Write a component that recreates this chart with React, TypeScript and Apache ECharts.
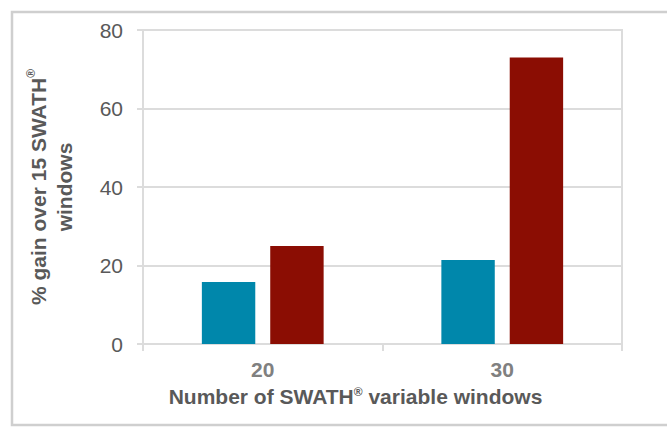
import React, { useEffect, useRef } from "react";
import * as echarts from "echarts";

const categories = ["20", "30"];
const seriesTeal = [15.8, 21.4];
const seriesRed = [25.0, 73.0];
const yTicks = { min: 0, max: 80, interval: 20 };

export default function App() {
  const ref = useRef<HTMLDivElement>(null);
  useEffect(() => {
    if (!ref.current) return;
    const chart = echarts.init(ref.current, undefined, { renderer: "svg" });
    const font = "'Liberation Sans', Arial, sans-serif";
    const sup = {
      fontFamily: font,
      fontSize: 12,
      fontWeight: "bold",
      color: "#595959",
      verticalAlign: "top",
      padding: [0, 0, 9, 0],
    };
    chart.setOption({
      animation: false,
      backgroundColor: "#ffffff",
      graphic: [
        {
          type: "rect",
          shape: { x: 12, y: 12, width: 700, height: 413 },
          style: { fill: "none", stroke: "#cfcfcf", lineWidth: 2.5 },
          silent: true,
          z: -1,
        },
      ],
      grid: {
        left: 143,
        right: 45,
        top: 30,
        bottom: 92,
        show: true,
        borderColor: "#dcdcdc",
        borderWidth: 2,
        backgroundColor: "transparent",
      },
      xAxis: {
        type: "category",
        data: categories,
        name: "Number of SWATH{sup|®} variable windows",
        nameLocation: "middle",
        nameGap: 42,
        nameTextStyle: {
          fontFamily: font,
          fontSize: 21,
          fontWeight: "bold",
          color: "#595959",
          padding: [0, 54, 0, 0],
          rich: { sup },
        },
        axisLine: { show: true, lineStyle: { color: "#dcdcdc", width: 2 } },
        axisTick: { show: true, length: 7, lineStyle: { color: "#dcdcdc", width: 2 } },
        axisLabel: {
          fontFamily: font,
          fontSize: 21,
          fontWeight: "bold",
          color: "#808080",
          margin: 15,
        },
        splitLine: { show: false },
      },
      yAxis: {
        type: "value",
        min: yTicks.min,
        max: yTicks.max,
        interval: yTicks.interval,
        name: "% gain over 15 SWATH{sup|®}\nwindows",
        nameLocation: "middle",
        nameGap: 66,
        nameRotate: 90,
        nameTextStyle: {
          fontFamily: font,
          fontSize: 21,
          fontWeight: "bold",
          color: "#595959",
          lineHeight: 26,
          align: "center",
          rich: { sup },
        },
        axisLine: { show: true, lineStyle: { color: "#dcdcdc", width: 2 } },
        axisTick: { show: true, length: 6, lineStyle: { color: "#dcdcdc", width: 2 } },
        axisLabel: {
          fontFamily: font,
          fontSize: 21,
          color: "#595959",
          margin: 20,
        },
        splitLine: { show: true, lineStyle: { color: "#dcdcdc", width: 2 } },
      },
      series: [
        {
          type: "bar",
          name: "Teal",
          data: seriesTeal,
          barWidth: "22.3%",
          barGap: "28%",
          itemStyle: { color: "#0087ab" },
        },
        {
          type: "bar",
          name: "Red",
          data: seriesRed,
          barWidth: "22.3%",
          barGap: "28%",
          itemStyle: { color: "#8b0d03" },
        },
      ],
    });
    return () => chart.dispose();
  }, []);
  return (
    <div
      ref={ref}
      style={{ position: "absolute", left: 0, top: 0, width: 667, height: 436 }}
    />
  );
}
